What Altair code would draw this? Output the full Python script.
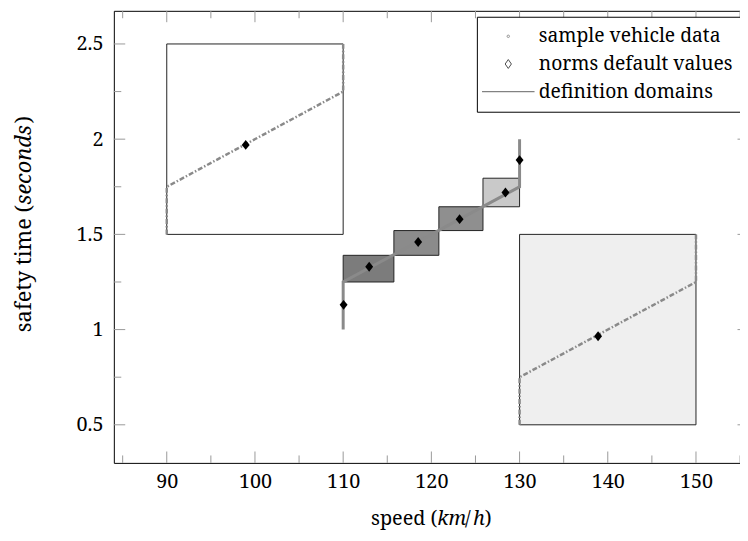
import altair as alt
import pandas as pd

# ---------------- data ----------------
# definition domains (boxes)
box_x0 = [90, 130, 110, 115.75, 120.85, 125.85]
box_x1 = [110, 150, 115.75, 120.85, 125.85, 130]
box_y0 = [1.5, 0.5, 1.25, 1.39, 1.52, 1.645]
box_y1 = [2.5, 1.5, 1.39, 1.52, 1.645, 1.795]
box_fill = ["#ffffff", "#efefef", "#7c7c7c", "#8b8b8b", "#8f8f8f", "#c9c9c9"]

# sample vehicle data (three traces)
center_x = [110, 110, 130, 130]
center_y = [1.0, 1.25, 1.75, 2.0]
left_x = [90, 90, 110, 110]
left_y = [1.5, 1.75, 2.25, 2.5]
right_x = [130, 130, 150, 150]
right_y = [0.5, 0.75, 1.25, 1.5]

# norms default values
norm_x = [110.05, 112.95, 118.5, 123.2, 128.4, 130.0, 98.95, 138.9]
norm_y = [1.13, 1.33, 1.46, 1.58, 1.72, 1.89, 1.97, 0.965]

# axis ticks
x_major = [90, 100, 110, 120, 130, 140, 150]
x_minor = [85, 95, 105, 115, 125, 135, 145, 155]
y_major = [0.5, 1.0, 1.5, 2.0, 2.5]
y_minor = [0.75, 1.25, 1.75, 2.25]

legend_labels = ["sample vehicle data", "norms default values", "definition domains"]

# ---------------- layout / style ----------------
W, H = 642, 457
FONT = "Noto Serif"
FS = 20
TICK = "#999999"
MAJ, MIN = 11.5, 7.5
DIAMOND = "M0,-1L0.8,0L0,1L-0.8,0Z"
LEG_DIAMOND = "M0,-1L0.7,0L0,1L-0.7,0Z"
LEG_LINE = "M-8.85,0L8.85,0"

xs = alt.Scale(domain=[84, 156], nice=False, zero=False)
ys = alt.Scale(domain=[0.3, 2.674], nice=False, zero=False)
xax = alt.Axis(values=x_major, ticks=False, tickSize=0, domain=False, grid=False,
               labelFont=FONT, labelFontSize=FS, labelColor="black", labelPadding=8.5,
               labelFlush=False, labelOverlap=False, title=None, format="d")
yax = alt.Axis(values=y_major, ticks=False, tickSize=0, domain=False, grid=False,
               labelFont=FONT, labelFontSize=FS, labelColor="black", labelPadding=11,
               labelOverlap=False, title=None, format="~g")

X = lambda f="x": alt.X(f"{f}:Q", scale=xs, axis=xax)
Y = lambda f="y": alt.Y(f"{f}:Q", scale=ys, axis=yax)

boxes = pd.DataFrame({"x": box_x0, "x2": box_x1, "y": box_y0, "y2": box_y1, "fill": box_fill})
box_layer = alt.Chart(boxes).mark_rect(stroke="#222222", strokeWidth=1).encode(
    x=X(), x2="x2:Q", y=Y(), y2="y2:Q",
    fill=alt.Fill("fill:N", scale=None),
)

def trace(xv, yv, **kw):
    df = pd.DataFrame({"x": xv, "y": yv, "i": list(range(len(xv)))})
    return alt.Chart(df).mark_line(color="#8a8a8a", **kw).encode(
        x=X(), y=Y(), order=alt.Order("i:Q"))

center_layer = trace(center_x, center_y, strokeWidth=3)
left_layer = trace(left_x, left_y, strokeWidth=2.5, strokeDash=[5, 2, 1.5, 2])
right_layer = trace(right_x, right_y, strokeWidth=2.5, strokeDash=[5, 2, 1.5, 2])

norms = pd.DataFrame({"x": norm_x, "y": norm_y})
norm_layer = alt.Chart(norms).mark_point(
    shape=DIAMOND, filled=True, size=100, color="black", opacity=1
).encode(x=X(), y=Y())

def xticks(vals, length, top):
    df = pd.DataFrame({"x": vals})
    y0, y1 = (0, length) if top else (H, H - length)
    return alt.Chart(df).mark_rule(color=TICK, strokeWidth=1).encode(
        x=X(), y=alt.value(y0), y2=alt.value(y1))

def yticks(vals, length, right):
    df = pd.DataFrame({"y": vals})
    x0, x1 = (W, W - length) if right else (0, length)
    return alt.Chart(df).mark_rule(color=TICK, strokeWidth=1).encode(
        y=Y(), x=alt.value(x0), x2=alt.value(x1))

tick_layers = [
    xticks(x_major, MAJ, False), xticks(x_major, MAJ, True),
    xticks(x_minor, MIN, False), xticks(x_minor, MIN, True),
    yticks(y_major, MAJ, False), yticks(y_major, MAJ, True),
    yticks(y_minor, MIN, False), yticks(y_minor, MIN, True),
]

leg = alt.Legend(title=None, orient="none", legendX=367, legendY=6, padding=10,
                 fillColor="white", strokeColor="black", cornerRadius=0,
                 labelFont=FONT, labelFontSize=19.5, labelColor="black", labelLimit=400,
                 symbolStrokeWidth=1, symbolOffset=12, labelOffset=21, rowPadding=7)
leg_df = pd.DataFrame({"label": legend_labels})
legend_layer = alt.Chart(leg_df).mark_point(filled=False, strokeWidth=1).encode(
    x=alt.value(-3000), y=alt.value(-3000),
    color=alt.Color("label:N", scale=alt.Scale(domain=legend_labels,
                                               range=["#666666", "black", "#222222"]), legend=leg),
    shape=alt.Shape("label:N", scale=alt.Scale(domain=legend_labels,
                                               range=["circle", LEG_DIAMOND, LEG_LINE]), legend=leg),
    size=alt.Size("label:N", scale=alt.Scale(type="ordinal", domain=legend_labels,
                                             range=[6, 81, 36]), legend=leg),
)

one = alt.Data(values=[{"a": 1}])

def txt(s, x, y, italic=False, angle=0, size=FS):
    kw = dict(text=s, font=FONT, fontSize=size, color="black", align="left",
              baseline="alphabetic")
    if italic:
        kw["fontStyle"] = "italic"
    if angle:
        kw["angle"] = angle
    return alt.Chart(one).mark_text(**kw).encode(x=alt.value(x), y=alt.value(y))

# x title: speed (km/h)
XB = 520
title_layers = [
    txt("speed (", 260, XB),
    txt("km", 327, XB, italic=True),
    txt("/", 355, XB),
    txt("h", 363, XB, italic=True),
    txt(")", 375, XB),
]
# y title: safety time (seconds)  (reads bottom to top)
YT = 22
title_layers += [
    txt("safety time (", -84, 325, angle=270, size=YT),
    txt("seconds", -84, 196, italic=True, angle=270, size=YT),
    txt(")", -84, 114, angle=270, size=YT),
]

chart = alt.layer(
    box_layer, center_layer, left_layer, right_layer, norm_layer,
    *tick_layers, legend_layer, *title_layers
).properties(
    width=W, height=H,
    autosize=alt.AutoSizeParams(type="none"),
    padding={"left": 107, "top": 0, "right": -9, "bottom": 66},
).configure_view(stroke="black", strokeWidth=1)

chart.save("out.html", embed_options={"renderer": "svg", "actions": False})
